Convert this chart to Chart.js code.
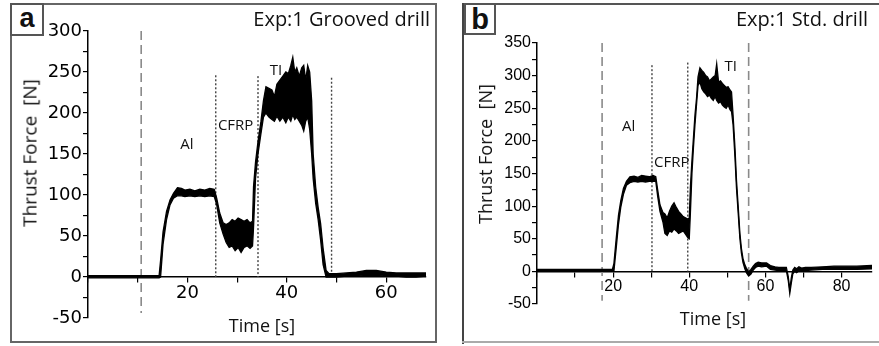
<!DOCTYPE html>
<html>
<head>
<meta charset="utf-8">
<script src="https://cdn.jsdelivr.net/npm/chart.js@4.4.1/dist/chart.umd.min.js"></script>
<style>
  body { margin: 0; background: #fff; width: 879px; height: 346px; position: relative; overflow: hidden; }
  .abs { position: absolute; }
  .txt { position: absolute; font-family: "Open Sans", sans-serif; color: #111; white-space: nowrap; line-height: 1; }
  .letter { position: absolute; font-family: "Liberation Sans", Arial, sans-serif; font-weight: bold; color: #111;
            border: 2px solid #555; box-sizing: border-box; text-align: center; background: #fff; }
</style>
</head>
<body>
<!-- panel frames -->
<div class="abs" style="left:10px;top:3px;width:427px;height:340px;border:2px solid #666;box-sizing:border-box;"></div>
<div class="abs" style="left:462px;top:3px;width:417px;height:2px;background:#555;"></div>
<div class="abs" style="left:462px;top:3px;width:2px;height:341px;background:#444;"></div>
<div class="abs" style="left:462px;top:341px;width:417px;height:2px;background:#aaa;"></div>

<div class="abs" style="left:10px;top:4px;width:426px;height:339px;"><canvas id="chartA"></canvas></div>
<div class="abs" style="left:463px;top:3px;width:416px;height:340px;"><canvas id="chartB"></canvas></div>

<div class="letter" style="left:10px;top:3px;width:34px;height:33px;font-size:27px;line-height:27px;">a</div>
<div class="letter" style="left:464px;top:3px;width:32px;height:32px;font-size:29px;line-height:28px;">b</div>

<div class="txt" style="right:449px;top:9px;font-size:20px;">Exp:1 Grooved drill</div>
<div class="txt" style="right:11px;top:9px;font-size:20px;">Exp:1 Std. drill</div>

<div class="txt" style="left:30px;top:153px;font-size:19px;transform:translate(-50%,-50%) rotate(-90deg);">Thrust Force&nbsp; [N]</div>
<div class="txt" style="left:485px;top:154px;font-size:18px;transform:translate(-50%,-50%) rotate(-90deg);">Thrust Force&nbsp; [N]</div>
<div class="txt" style="left:262px;top:325px;font-size:18px;transform:translate(-50%,-50%);">Time [s]</div>
<div class="txt" style="left:713px;top:318px;font-size:18px;transform:translate(-50%,-50%);">Time [s]</div>

<script>
// ---- panel a : grooved drill ----
const timeA = [0, 5, 10, 14.3, 14.6, 15.1, 15.8, 16.5, 17.2, 18, 18.8, 19.5, 20.5, 21.5, 22.5, 23.5, 24.5, 25.4, 25.9,
  26.5, 27.2, 27.8, 28.4, 29, 29.6, 30.2, 30.8, 31.4, 32, 32.6, 33.1, 33.3, 33.7, 34.2, 34.8, 35.3, 35.8, 36.4, 37,
  37.5, 38, 38.6, 39.2, 39.8, 40.3, 40.8, 41.2, 41.6, 42, 42.5, 43, 43.4, 43.8, 44.2, 44.6, 45, 45.3, 45.8, 46.3,
  46.8, 47.3, 47.9, 48.5, 50, 52, 54, 56, 58, 60, 62, 64, 66, 68];
const forceUpperA = [1.5, 1.5, 1.5, 1.5, 20, 55, 80, 94, 102, 109, 108, 106, 107, 105, 107, 106, 108, 107, 96,
  78, 66, 64, 66, 70, 68, 72, 70, 68, 70, 66, 68, 110, 140, 165, 190, 215, 232, 230, 228,
  220, 235, 240, 245, 250, 248, 258, 268, 250, 255, 245, 255, 258, 240, 258, 250, 215, 150, 110, 85,
  65, 35, 8, 4, 4, 5, 6, 8, 8, 6, 5, 5, 5, 5];
const forceLowerA = [-1, -1, -1, -1, 0, 40, 70, 88, 96, 99, 99, 98, 99, 98, 99, 98, 99, 98, 88,
  66, 52, 42, 36, 38, 32, 36, 30, 36, 38, 35, 38, 60, 120, 150, 175, 195, 200, 195, 192,
  190, 196, 190, 195, 188, 195, 190, 198, 192, 195, 190, 185, 178, 190, 195, 180, 150, 120, 90, 70,
  45, 15, 0, 0, 0, 1, 1, 2, 2, 1, 1, 0, 0, 1];
const dashedA = [10.7];
const dashedSpanA = [300, -44];
const dottedA = [25.7, 34.2, 49];
const dottedTopA = [246, 245, 243];
const regionNamesA = ['Al', 'CFRP', 'TI'];
const regionTimeA = [19.9, 29.7, 37.8];
const regionForceA = [161, 184, 251];

// ---- panel b : standard drill ----
const timeB = [0, 10, 19.8, 20.2, 20.8, 21.4, 22, 22.7, 23.5, 24.4, 25.5, 26.5, 27.5, 28.5, 29.5,
  30.5, 31.2, 31.7, 32.3, 33.1, 33.6, 34.2, 34.8, 35.4, 36, 36.6, 37.2, 37.8, 38.4, 39,
  39.6, 40, 40.3, 40.7, 41.1, 41.5, 41.9, 42.3, 42.8, 43.3, 43.8, 44.3, 44.8, 45.3, 45.8,
  46.3, 46.8, 47.2, 47.7, 48.2, 48.7, 49.2, 49.7, 50.2, 50.7, 51.1, 51.5, 52, 52.4, 52.9,
  53.3, 53.7, 54.1, 54.6, 55, 55.6, 56.2, 56.8, 57.4, 58.1, 59, 60.3, 61.3, 62.5, 63.5,
  64.5, 65.5, 66, 66.4, 66.8, 67.2, 67.7, 68.2, 68.8, 69.5, 70.5, 72, 75, 78, 81, 84, 88];
const forceUpperB = [3, 3, 3, 12, 50, 86, 108, 127, 138, 145, 146, 144, 147, 146, 145,
  147, 145, 125, 102, 90, 88, 82, 92, 100, 105, 98, 92, 88, 84, 82,
  80, 82, 130, 170, 205, 240, 265, 298, 312, 308, 305, 300, 298, 292, 295,
  298, 300, 318, 290, 292, 288, 285, 282, 283, 278, 275, 240, 190, 140, 95,
  58, 35, 20, 10, 5, -1, 3, 8, 12, 14, 13, 13, 9, 7, 6,
  6, 6, -8, -28, -10, 2, 6, 4, 7, 5, 6, 6, 7, 8, 8, 8, 9];
const forceLowerB = [0, 0, 0, 0, 35, 72, 98, 118, 132, 136, 138, 137, 138, 137, 138,
  138, 138, 115, 92, 75, 58, 55, 62, 60, 65, 62, 58, 60, 62, 57,
  52, 50, 90, 150, 190, 225, 255, 285, 290, 280, 275, 272, 268, 270, 265,
  262, 268, 262, 258, 260, 255, 252, 250, 255, 248, 245, 225, 175, 128, 85,
  50, 28, 14, 4, -2, -7, -4, 2, 6, 8, 7, 8, 3, 2, 1,
  1, 1, -14, -34, -18, -4, 0, -2, 1, 0, 1, 2, 3, 3, 3, 3, 4];
const dashedB = [17.1, 55.6];
const dashedSpanB = [350, -45];
const dottedB = [30.2, 39.6];
const dottedTopB = [316, 320];
const regionNamesB = ['Al', 'CFRP', 'TI'];
const regionTimeB = [24.1, 35.4, 50.9];
const regionForceB = [221, 166, 313];

function buildChart(id, p) {
  const toPts = (ts, vs) => ts.map((t, i) => ({ x: t, y: vs[i] }));
  const datasets = [
    { data: toPts(p.time, p.upper), borderColor: '#000', borderWidth: 1.3, pointRadius: 0, fill: false, order: 1 },
    { data: toPts(p.time, p.lower), borderColor: '#000', borderWidth: 1.3, pointRadius: 0,
      fill: '-1', backgroundColor: '#000', order: 1 }
  ];
  // vertical separators
  p.dashed.forEach(t => datasets.push({
    data: [{ x: t, y: p.dashedSpan[0] }, { x: t, y: p.dashedSpan[1] }],
    borderColor: '#8a8a8a', borderWidth: 1.6, borderDash: [9, 5], pointRadius: 0, fill: false, order: 2
  }));
  p.dotted.forEach((t, i) => datasets.push({
    data: [{ x: t, y: p.dottedTop[i] }, { x: t, y: 0 }],
    borderColor: '#444', borderWidth: 1.4, borderDash: [2, 2], pointRadius: 0, fill: false, order: 2
  }));

  const regionLabels = {
    id: 'regionLabels',
    afterDatasetsDraw(chart) {
      const { ctx, scales } = chart;
      ctx.save();
      ctx.fillStyle = '#111';
      ctx.font = p.labelFont;
      ctx.textAlign = 'center';
      ctx.textBaseline = 'middle';
      p.names.forEach((n, i) => {
        ctx.fillText(n, scales.x.getPixelForValue(p.namesAt[i]), scales.y.getPixelForValue(p.namesLevel[i]));
      });
      ctx.restore();
    }
  };

  return new Chart(document.getElementById(id), {
    type: 'line',
    data: { datasets },
    options: {
      responsive: true,
      maintainAspectRatio: false,
      animation: false,
      devicePixelRatio: 1,
      layout: { padding: p.padding },
      plugins: { legend: { display: false }, tooltip: { enabled: false } },
      elements: { line: { tension: 0 } },
      scales: {
        x: {
          type: 'linear',
          position: { y: 0 },
          min: 0, max: p.xMax,
          border: { display: true, color: '#000', width: 1.5 },
          grid: { drawOnChartArea: false, drawTicks: true, tickLength: 5, color: '#000', lineWidth: 1.2 },
          ticks: {
            stepSize: 10, includeBounds: false, autoSkip: false, maxRotation: 0, padding: 1,
            color: '#000', font: p.tickFont,
            callback: v => (v > 0 && v % 20 === 0) ? v : ''
          }
        },
        y: {
          type: 'linear',
          position: 'left',
          min: -50, max: p.yMax,
          afterFit: s => { s.width = p.yWidth; },
          border: { display: true, color: '#000', width: 1.5 },
          grid: { drawOnChartArea: false, drawTicks: true, tickLength: 5, color: '#000', lineWidth: 1.2 },
          ticks: {
            stepSize: 25, maxTicksLimit: 30, autoSkip: false, padding: 1,
            color: '#000', font: p.tickFont,
            callback: v => v % 50 === 0 ? v : ''
          }
        }
      }
    },
    plugins: [regionLabels]
  });
}

buildChart('chartA', {
  time: timeA, upper: forceUpperA, lower: forceLowerA,
  dashed: dashedA, dashedSpan: dashedSpanA, dotted: dottedA, dottedTop: dottedTopA,
  names: regionNamesA, namesAt: regionTimeA, namesLevel: regionForceA,
  xMax: 68, yMax: 300, yWidth: 78,
  padding: { top: 27, bottom: 25, left: 0, right: 10 },
  tickFont: { family: 'DejaVu Sans', size: 18 },
  labelFont: '15px "Open Sans"'
});

buildChart('chartB', {
  time: timeB, upper: forceUpperB, lower: forceLowerB,
  dashed: dashedB, dashedSpan: dashedSpanB, dotted: dottedB, dottedTop: dottedTopB,
  names: regionNamesB, namesAt: regionTimeB, namesLevel: regionForceB,
  xMax: 88, yMax: 350, yWidth: 74,
  padding: { top: 40, bottom: 39, left: 0, right: 7 },
  tickFont: { family: 'Liberation Sans', size: 16 },
  labelFont: '15px "Open Sans"'
});
</script>
</body>
</html>
